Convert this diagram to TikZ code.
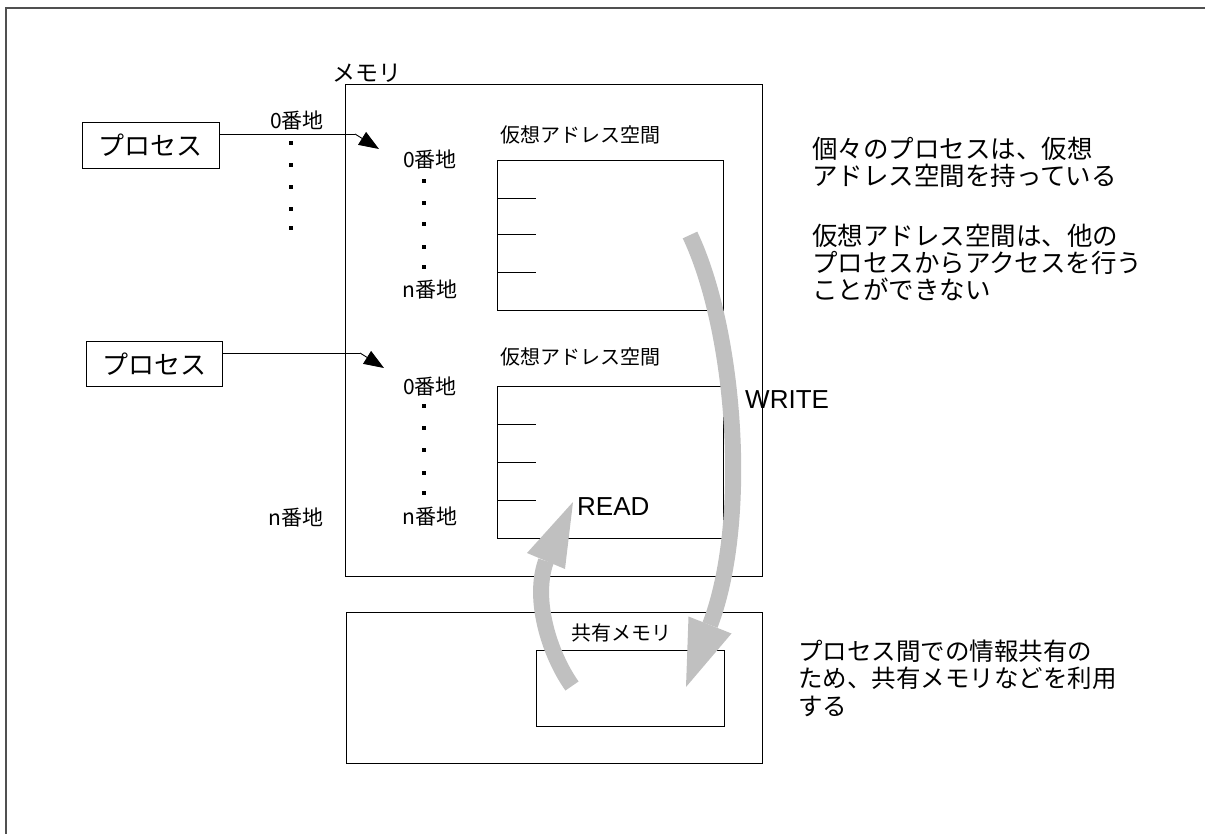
\documentclass[tikz,border=0pt]{standalone}
\usepackage{fontspec}
\setmainfont{Liberation Sans}
\newfontfamily\jp{Noto Sans CJK JP}
\usetikzlibrary{arrows.meta}
\definecolor{arrowgray}{HTML}{C0C0C0}
\definecolor{framegray}{HTML}{505050}
\tikzset{
  box/.style={draw, line width=0.9pt, inner sep=0pt, anchor=north west},
  addr/.style={inner sep=0pt, font=\jp\fontsize{21}{24}\selectfont},
  vlbl/.style={inner sep=0pt, font=\jp\fontsize{20}{24}\selectfont},
  note/.style={inner sep=0pt, anchor=west, align=left},
  rw/.style={inner sep=0pt, font=\fontsize{26}{30}\selectfont},
  link/.style={line width=0.9pt, -{Triangle[length=20pt,width=15pt]}},
  bigshaft/.style={draw=arrowgray, line width=16pt},
  bighead/.style={fill=arrowgray},
  tick/.style={line width=0.9pt},
  dotmark/.style={fill=black}
}
\newcommand{\dotat}[2]{\fill[dotmark] (#1-1.6,#2-1.6) rectangle (#1+1.6,#2+1.6);}
\begin{document}
\begin{tikzpicture}[x=1pt,y=-1pt]
\useasboundingbox (0,0) rectangle (1205,834);
% outer frame
\draw[framegray, line width=1.6pt] (6,834) -- (6,8) -- (1205,8);

% memory box
\node[vlbl, font=\jp\fontsize{23}{26}\selectfont] (memlbl) at (367,73) {メモリ};
\node[box, minimum width=417pt, minimum height=492pt] (mem) at (345,84) {};

% process boxes
\node[box, minimum width=137pt, minimum height=46pt, font=\jp\fontsize{26}{28}\selectfont] (p1) at (82,122) {プロセス};
\node[box, minimum width=136pt, minimum height=45pt, font=\jp\fontsize{26}{28}\selectfont] (p2) at (86,341) {プロセス};

% links
\coordinate (b1) at (355,134);
\coordinate (t1) at (379,149);
\coordinate (b2) at (360,353);
\coordinate (t2) at (384,368);
\draw[line width=0.9pt] (p1.east |- b1) -- (b1);
\draw[link] (b1) -- (t1);
\draw[line width=0.9pt] (p2.east |- b2) -- (b2);
\draw[link] (b2) -- (t2);

% outer address labels
\node[addr] (o0) at (297,121) {0番地};
\dotat{291}{143}\dotat{291}{165}\dotat{291}{187}\dotat{291}{209}\dotat{291}{228}
\node[addr] (on) at (296,518) {n番地};

% virtual space 1
\node[vlbl] (v1lbl) at (580,135) {仮想アドレス空間};
\node[box, minimum width=226pt, minimum height=150pt] (vb1) at (497,160) {};
\draw[tick] (497,198) -- (536,198);
\draw[tick] (497,234) -- (536,234);
\draw[tick] (497,272) -- (536,272);
\node[addr] (a10) at (430,160) {0番地};
\dotat{424}{181}\dotat{424}{203}\dotat{424}{224}\dotat{424}{247}\dotat{424}{267}
\node[addr] (a1n) at (430,290) {n番地};

% virtual space 2
\node[vlbl] (v2lbl) at (580,357) {仮想アドレス空間};
\node[box, minimum width=226pt, minimum height=152pt] (vb2) at (497,386) {};
\draw[tick] (497,424) -- (536,424);
\draw[tick] (497,462) -- (536,462);
\draw[tick] (497,500) -- (536,500);
\node[addr] (a20) at (430,387) {0番地};
\dotat{424}{406}\dotat{424}{428}\dotat{424}{450}\dotat{424}{473}\dotat{424}{493}
\node[addr] (a2n) at (430,517) {n番地};

% shared memory
\node[box, minimum width=416pt, minimum height=151pt] (sh) at (346,612) {};
\node[vlbl, font=\jp\fontsize{20}{22}\selectfont] (shlbl) at (621,633) {共有メモリ};
\node[box, minimum width=188pt, minimum height=76pt] (shin) at (536,650) {};

% WRITE arrow
\coordinate (w0) at (690,235);
\coordinate (w1) at (710,625);
\draw[bigshaft] (w0) .. controls (735,330) and (750,520) .. (w1);
\fill[bighead] (688.5,616.5) -- (731.5,633.5) -- (686,687) -- cycle;
\node[rw, anchor=west] (write) at (745,400) {WRITE};

% READ arrow
\coordinate (r0) at (572,686);
\coordinate (r1) at (546,561);
\draw[bigshaft] (r0) .. controls (550,655) and (532,600) .. (r1);
\fill[bighead] (527,553) -- (565,569) -- (573,502) -- cycle;
\node[rw, anchor=west] (read) at (577,507) {READ};

% notes
\node[note, font=\jp\fontsize{25.5}{27}\selectfont] (n1) at (812,162) {個々のプロセスは、仮想\\アドレス空間を持っている};
\node[note, font=\jp\fontsize{25.5}{27}\selectfont] (n2) at (812,262) {仮想アドレス空間は、他の\\プロセスからアクセスを行う\\ことができない};
\node[note, font=\jp\fontsize{24.5}{27.5}\selectfont] (n3) at (798,678) {プロセス間での情報共有の\\ため、共有メモリなどを利用\\する};
\end{tikzpicture}
\end{document}
